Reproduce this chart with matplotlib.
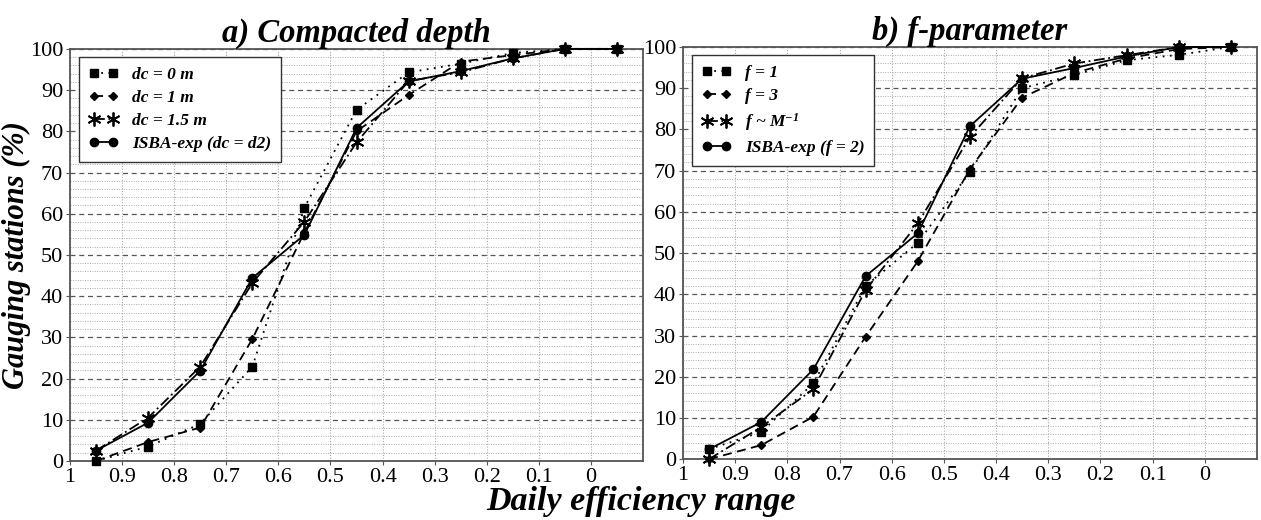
import matplotlib
matplotlib.use('Agg')
import matplotlib.pyplot as plt
from matplotlib.ticker import MultipleLocator

plt.rcParams['font.family'] = ['Liberation Serif', 'DejaVu Serif']
plt.rcParams['mathtext.fontset'] = 'custom'
plt.rcParams['mathtext.rm'] = 'Liberation Serif:italic:bold'
plt.rcParams['mathtext.it'] = 'Liberation Serif:italic:bold'
plt.rcParams['mathtext.default'] = 'regular'

# daily efficiency classes (bin centres)
eff = [0.95, 0.85, 0.75, 0.65, 0.55, 0.45, 0.35, 0.25, 0.15, 0.05, -0.05]

# a) compacted depth experiments (% of gauging stations)
dc_0 = [0.0, 3.5, 9.0, 22.9, 61.5, 85.2, 94.3, 96.4, 99.0, 100, 100]
dc_1 = [0.0, 4.6, 8.1, 29.6, 55.5, 80.0, 88.8, 96.9, 98.5, 100, 100]
dc_15 = [2.5, 10.5, 22.9, 43.2, 58.1, 77.3, 92.2, 94.3, 97.7, 100, 100]
isba_a = [2.5, 9.3, 21.9, 44.4, 54.9, 80.8, 92.1, 94.6, 97.7, 100, 100]

# b) f-parameter experiments
f_1 = [2.4, 6.6, 18.4, 42.0, 52.5, 69.7, 90.0, 93.2, 96.8, 98.1, 100]
f_3 = [0.0, 3.4, 10.3, 29.7, 48.0, 70.4, 87.7, 93.7, 97.2, 99.5, 100]
f_m = [0.0, 7.8, 17.0, 41.0, 57.2, 78.2, 92.4, 96.0, 98.0, 100, 100]
isba_b = [2.4, 9.0, 21.8, 44.4, 54.8, 80.8, 92.3, 94.9, 97.7, 100, 100]

labels_a = ['dc = 0 m', 'dc = 1 m', 'dc = 1.5 m', 'ISBA-exp (dc = d2)']
labels_b = ['f = 1', 'f = 3', r'f ~ M$^{-1}$', 'ISBA-exp (f = 2)']

styles = [
    dict(marker='s', linestyle=(0, (1, 3)), markersize=6),
    dict(marker='D', linestyle=(0, (5, 3)), markersize=4.5),
    dict(marker=(6, 2, 0), linestyle=(0, (6, 2, 1, 2)), markersize=10, markeredgewidth=1.3),
    dict(marker='o', linestyle='-', markersize=6),
]

fig = plt.figure(figsize=(12.61, 5.20), dpi=100)
ax1 = fig.add_axes([0.0555, 0.1135, 0.4545, 0.7925])
ax2 = fig.add_axes([0.5416, 0.117, 0.4552, 0.7926])

bold_it = dict(fontweight='bold', fontstyle='italic')


def draw_panel(ax, series, labels, title):
    for y, lab, st in zip(series, labels, styles):
        ax.plot(eff, y, color='black', linewidth=1.3, label=lab, clip_on=False,
                zorder=3, **st)
    ax.set_xlim(1, -0.1)
    ax.set_ylim(0, 100)
    ax.set_xticks([1, 0.9, 0.8, 0.7, 0.6, 0.5, 0.4, 0.3, 0.2, 0.1, 0])
    ax.set_xticklabels(['1', '0.9', '0.8', '0.7', '0.6', '0.5', '0.4', '0.3',
                        '0.2', '0.1', '0'])
    ax.yaxis.set_major_locator(MultipleLocator(10))
    ax.yaxis.set_minor_locator(MultipleLocator(2))
    ax.tick_params(axis='both', which='major', labelsize=16, length=3,
                   color='#555555', pad=2)
    ax.tick_params(axis='y', which='minor', length=0)
    ax.grid(axis='y', which='major', color='#555555', linestyle=(0, (4, 3)),
            linewidth=0.9)
    ax.grid(axis='y', which='minor', color='#aaaaaa', linestyle=(0, (1, 1.5)),
            linewidth=0.7)
    ax.grid(axis='x', which='major', color='#aaaaaa', linestyle=(0, (1, 1.5)),
            linewidth=0.8)
    ax.set_axisbelow(True)
    for sp in ax.spines.values():
        sp.set_color('#555555')
        sp.set_linewidth(1.3)
    ax.set_title(title, fontsize=23.5, pad=5, **bold_it)
    leg = ax.legend(loc='upper left', numpoints=2, handlelength=1.7,
                    fancybox=False, framealpha=1, edgecolor='#333333',
                    borderpad=0.55, labelspacing=0.4, handletextpad=0.8,
                    borderaxespad=0, bbox_to_anchor=(0.016, 0.98),
                    prop=dict(family='Liberation Serif', weight='bold',
                              style='italic', size=12.5))
    leg.get_frame().set_linewidth(1.0)


draw_panel(ax1, [dc_0, dc_1, dc_15, isba_a], labels_a, 'a) Compacted depth')
draw_panel(ax2, [f_1, f_3, f_m, isba_b], labels_b, 'b) f-parameter')

ax1.set_ylabel('Gauging stations (%)', fontsize=22, **bold_it)
ax1.yaxis.set_label_coords(-0.068, 0.5)
fig.text(0.508, 0.006, 'Daily efficiency range', ha='center', va='bottom',
         fontsize=24.5, **bold_it)

fig.savefig('out.png', dpi=100)
